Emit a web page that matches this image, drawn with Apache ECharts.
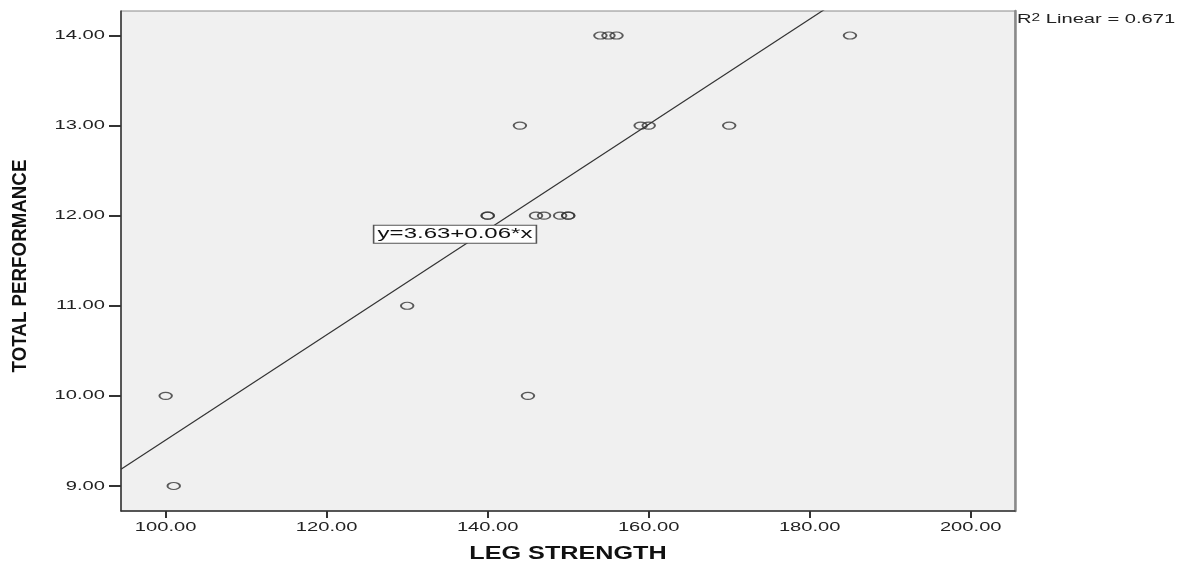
<!DOCTYPE html>
<html>
<head>
<meta charset="utf-8">
<script src="https://cdn.jsdelivr.net/npm/echarts@6/dist/echarts.min.js"></script>
<style>html,body{margin:0;padding:0;background:#fff}#c{width:1182px;height:567px}</style>
</head>
<body>
<div id="c"></div>
<script>
const legStrength = [100, 101, 130, 145, 144, 140, 140, 146, 147, 149, 150, 150, 154, 155, 156, 159, 160, 170, 185];
const totalPerformance = [10, 9, 11, 10, 13, 12, 12, 12, 12, 12, 12, 12, 14, 14, 14, 13, 13, 13, 14];
const xTicks = [100, 120, 140, 160, 180, 200];
const yTicks = [9, 10, 11, 12, 13, 14];
const fitIntercept = 3.67;
const fitSlope = 0.0584;
const fitLabel = 'y=3.63+0.06*x';
const r2Label = '0.671';
const xTitle = 'LEG STRENGTH';
const yTitle = 'TOTAL PERFORMANCE';
const xRange = [94.45, 205.5];
const yRange = [8.722, 14.272];
const fitLabelAt = [135.94, 11.794];

const points = legStrength.map((x, i) => [x, totalPerformance[i]]);
const fitLine = xRange.map(x => [x, fitIntercept + fitSlope * x]);

const chart = echarts.init(document.getElementById('c'));
const font = 'Liberation Sans, Arial, sans-serif';
const SX = 1.55;
chart.setOption({
  animation: false,
  textStyle: { fontFamily: font },
  grid: { left: 121, top: 11, right: 167, bottom: 56, show: true, backgroundColor: '#f0f0f0', borderColor: '#8a8a8a', borderWidth: 1 },
  xAxis: {
    type: 'value', min: xRange[0], max: xRange[1],
    axisLine: { lineStyle: { color: '#333', width: 1.5 } },
    axisTick: { show: true, length: 7, lineStyle: { color: '#333', width: 2 }, customValues: xTicks },
    axisLabel: { show: false },
    splitLine: { show: false }
  },
  yAxis: [{
    type: 'value', min: yRange[0], max: yRange[1],
    axisLine: { show: true, lineStyle: { color: '#333', width: 1.5 } },
    axisTick: { show: true, length: 12, lineStyle: { color: '#333', width: 2 }, customValues: yTicks },
    axisLabel: { show: false },
    splitLine: { show: false }
  }, {
    type: 'value', min: yRange[0], max: yRange[1], position: 'right',
    axisLine: { show: true, lineStyle: { color: '#8a8a8a', width: 2.5 } },
    axisTick: { show: false }, axisLabel: { show: false }, splitLine: { show: false }
  }],
  series: [{
    type: 'line', data: fitLine, showSymbol: false, symbol: 'none', clip: true,
    lineStyle: { color: '#333', width: 1.2 }, z: 2
  }, {
    type: 'scatter', data: points, symbol: 'circle', symbolSize: [12.5, 7],
    itemStyle: { color: 'rgba(0,0,0,0)', borderColor: '#333', borderWidth: 1.5 }, z: 3
  }]
});

const px = (x, y) => chart.convertToPixel({ gridIndex: 0 }, [x, y]);
const graphics = [];
const x0 = px(xRange[0], yRange[0]);
const x1 = px(xRange[1], yRange[1]);
yTicks.forEach(v => {
  const p = px(xRange[0], v);
  graphics.push({ type: 'text', x: p[0] - 16, y: p[1], scaleX: SX, z: 10,
    style: { text: v.toFixed(2), font: '13px ' + font, fill: '#222', align: 'right', verticalAlign: 'middle' } });
});
xTicks.forEach(v => {
  const p = px(v, yRange[0]);
  graphics.push({ type: 'text', x: p[0], y: p[1] + 16, scaleX: SX, z: 10,
    style: { text: v.toFixed(2), font: '13px ' + font, fill: '#222', align: 'center', verticalAlign: 'middle' } });
});
graphics.push({ type: 'text', x: (x0[0] + x1[0]) / 2, y: x0[1] + 43, scaleX: 1.4, z: 10,
  style: { text: xTitle, font: 'bold 18px ' + font, fill: '#111', align: 'center', verticalAlign: 'middle' } });
graphics.push({ type: 'text', x: 20, y: 266, rotation: Math.PI / 2, scaleX: 1.25, scaleY: 1.4, z: 10,
  style: { text: yTitle, font: 'bold 15px ' + font, fill: '#111', align: 'center', verticalAlign: 'middle' } });
const lp = px(fitLabelAt[0], fitLabelAt[1]);
graphics.push({ type: 'text', x: lp[0], y: lp[1], scaleX: 1.6, z: 10,
  style: { text: fitLabel, font: '15px ' + font, fill: '#111', align: 'center', verticalAlign: 'middle',
    backgroundColor: '#fff', borderColor: '#555', borderWidth: 1, padding: [1, 2, 1, 2] } });
graphics.push({ type: 'text', x: x1[0] + 2, y: 13, scaleX: SX, z: 10,
  style: {
    rich: { a: { font: '13px ' + font, fill: '#222' }, s: { font: '10px ' + font, fill: '#222', verticalAlign: 'top' } },
    text: '{a|R}{s|2}{a| Linear = ' + r2Label + '}'
  } });
chart.setOption({ graphic: graphics });
</script>
</body>
</html>
